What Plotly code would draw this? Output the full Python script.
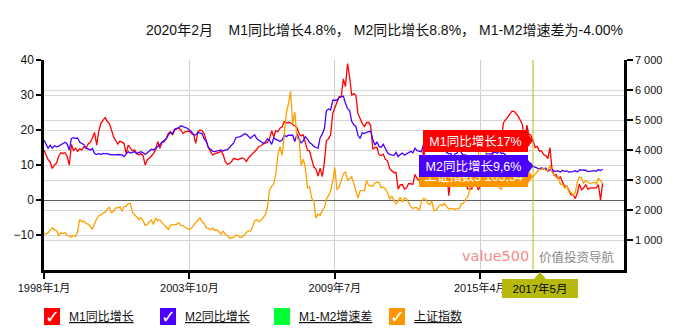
import pandas as pd
import plotly.graph_objects as go

# ---------------- data ----------------
m1_yoy = [
    14.3, 12.5, 11.5, 10.8, 9.0, 10.0, 10.5, 12.5, 13.5, 13.3, 13.5, 12.5,   # 1998
    10.0, 15.9, 14.2, 14.8, 13.9, 14.6, 14.3, 15.2, 14.8, 16.0, 16.5, 17.7,  # 1999
    19.3, 15.7, 19.5, 21.9, 22.8, 23.6, 22.5, 21.9, 20.0, 18.1, 17.0, 16.0,  # 2000
    16.8, 16.6, 16.2, 13.3, 15.7, 14.8, 14.0, 14.3, 13.2, 12.9, 13.3, 12.7,  # 2001
    10.0, 11.5, 11.9, 12.5, 13.3, 14.3, 16.7, 14.8, 16.5, 16.6, 17.6, 19.0,  # 2002
    19.5, 18.6, 20.0, 20.2, 20.5, 20.0, 19.0, 19.5, 19.5, 19.7, 19.0, 18.7,  # 2003
    16.2, 19.5, 20.0, 19.8, 19.0, 16.7, 15.0, 13.8, 12.9, 13.2, 13.3, 13.6,  # 2004
    14.0, 12.9, 11.0, 10.2, 10.4, 11.0, 11.9, 11.6, 11.5, 11.8, 12.0, 11.8,  # 2005
    11.0, 12.0, 12.6, 13.0, 13.8, 14.5, 15.3, 15.5, 16.0, 16.3, 16.5, 17.5,  # 2006
    19.8, 18.0, 19.8, 19.5, 20.5, 20.9, 22.4, 22.0, 22.2, 22.0, 21.5, 21.0,  # 2007
    20.7, 18.9, 18.3, 18.6, 16.5, 14.2, 14.0, 11.8, 9.4, 8.9, 6.8, 9.1,      # 2008
    6.7, 10.9, 17.0, 17.5, 18.7, 24.8, 26.4, 27.7, 29.5, 29.5, 34.6, 32.4,   # 2009
    39.0, 35.0, 29.9, 30.4, 29.9, 24.6, 23.0, 21.9, 20.9, 22.1, 22.2, 21.2,  # 2010
    14.5, 15.0, 15.0, 12.9, 12.7, 13.1, 11.6, 11.2, 8.9, 8.4, 7.8, 7.9,      # 2011
    3.1, 4.3, 4.4, 3.1, 3.5, 4.7, 4.6, 4.5, 7.3, 6.1, 5.5, 6.5,              # 2012
    15.3, 9.5, 11.9, 11.9, 11.3, 9.1, 9.7, 9.9, 8.9, 8.9, 9.4, 9.3,          # 2013
    1.2, 6.9, 5.4, 5.3, 5.7, 8.9, 6.7, 5.7, 4.8, 3.2, 3.2, 3.2,              # 2014
    10.6, 5.6, 2.9, 3.7, 4.7, 4.3, 6.6, 9.3, 11.4, 14.0, 15.7, 15.2,         # 2015
    18.6, 17.4, 22.1, 22.9, 23.7, 24.6, 25.4, 25.3, 24.7, 23.9, 22.7, 21.4,  # 2016
    14.5, 21.4, 18.8, 18.5, 17.0, 15.0, 15.3, 14.0, 14.0, 13.0, 12.7, 11.8,  # 2017
    15.0, 8.5, 7.1, 7.2, 6.0, 6.6, 5.1, 3.9, 4.0, 2.7, 1.5, 1.5,             # 2018
    0.4, 2.0, 4.6, 2.9, 3.4, 4.4, 3.1, 3.4, 3.4, 3.3, 3.5, 4.4,              # 2019
    0.0, 4.8,                                                                # 2020
]

m2_yoy = [
    17.1, 16.0, 14.8, 15.7, 14.8, 15.5, 15.2, 15.4, 15.8, 16.2, 16.5, 16.0,  # 1998
    14.3, 17.6, 17.8, 17.6, 17.7, 16.5, 16.2, 15.8, 14.8, 14.5, 14.3, 14.7,  # 1999
    13.3, 13.0, 13.3, 13.0, 13.3, 13.2, 13.3, 13.0, 12.9, 13.0, 12.9, 13.0,  # 2000
    13.0, 12.9, 12.4, 13.2, 13.8, 13.4, 13.6, 13.8, 13.3, 13.5, 13.8, 13.5,  # 2001
    13.0, 13.5, 14.0, 14.5, 14.3, 14.8, 15.2, 15.8, 16.5, 16.9, 17.5, 18.6,  # 2002
    19.3, 19.0, 20.2, 20.5, 20.7, 21.2, 21.0, 20.8, 20.5, 20.0, 19.5, 18.6,  # 2003
    18.6, 19.3, 19.2, 19.0, 17.5, 16.7, 15.0, 14.3, 13.9, 13.8, 14.0, 14.3,  # 2004
    14.3, 14.0, 14.3, 14.3, 15.0, 15.7, 16.3, 17.8, 17.9, 18.1, 18.4, 18.9,  # 2005
    18.8, 18.0, 17.6, 18.2, 18.6, 17.5, 17.0, 16.7, 16.2, 16.5, 17.5, 17.0,  # 2006
    15.9, 17.8, 17.3, 17.1, 16.7, 17.1, 18.5, 18.1, 18.5, 18.5, 18.5, 16.7,  # 2007
    18.9, 17.5, 16.3, 16.9, 18.1, 17.4, 16.4, 16.0, 15.3, 15.0, 14.8, 17.8,  # 2008
    18.8, 20.5, 25.5, 26.0, 25.7, 28.5, 28.4, 28.5, 29.3, 29.4, 29.7, 27.7,  # 2009
    26.1, 25.5, 22.5, 21.5, 21.0, 18.5, 17.6, 19.2, 19.0, 19.3, 19.5, 19.7,  # 2010
    17.2, 15.7, 16.6, 15.3, 15.1, 15.9, 14.7, 13.5, 13.0, 12.9, 12.7, 13.6,  # 2011
    12.4, 13.0, 13.4, 12.8, 13.2, 13.6, 13.9, 13.5, 14.8, 14.1, 13.9, 13.8,  # 2012
    15.9, 15.2, 15.7, 16.1, 15.8, 14.0, 14.5, 14.7, 14.2, 14.3, 14.2, 13.6,  # 2013
    13.2, 13.3, 12.1, 13.2, 13.4, 14.7, 13.5, 12.8, 12.9, 12.6, 12.3, 12.2,  # 2014
    10.8, 12.5, 11.6, 10.1, 10.8, 10.2, 13.3, 13.3, 13.1, 13.5, 13.7, 13.3,  # 2015
    14.0, 13.3, 13.4, 12.8, 11.8, 11.8, 10.2, 11.4, 11.5, 11.6, 11.4, 11.3,  # 2016
    11.3, 11.1, 10.6, 10.5, 9.6, 9.4, 9.2, 8.9, 9.2, 8.8, 9.1, 8.2,          # 2017
    8.6, 8.8, 8.2, 8.3, 8.3, 8.0, 8.5, 8.2, 8.3, 8.0, 8.0, 8.1,              # 2018
    8.4, 8.0, 8.6, 8.5, 8.5, 8.5, 8.1, 8.2, 8.4, 8.4, 8.2, 8.7,              # 2019
    8.4, 8.8,                                                                # 2020
]

sse_index = [
    1206, 1206, 1243, 1343, 1411, 1339, 1316, 1150, 1242, 1217, 1248, 1147,  # 1998
    1135, 1091, 1158, 1120, 1280, 1690, 1601, 1627, 1546, 1529, 1441, 1367,  # 1999
    1535, 1714, 1801, 1836, 1894, 1928, 2023, 2097, 1911, 1961, 2071, 2073,  # 2000
    2103, 1960, 2113, 2119, 2214, 2218, 1920, 1834, 1741, 1690, 1747, 1646,  # 2001
    1491, 1524, 1603, 1667, 1517, 1732, 1653, 1669, 1581, 1507, 1442, 1357,  # 2002
    1500, 1512, 1511, 1521, 1576, 1487, 1477, 1421, 1367, 1348, 1397, 1497,  # 2003
    1590, 1675, 1742, 1595, 1555, 1400, 1386, 1342, 1396, 1320, 1340, 1266,  # 2004
    1191, 1306, 1181, 1159, 1060, 1080, 1083, 1162, 1155, 1092, 1099, 1161,  # 2005
    1258, 1299, 1299, 1440, 1642, 1672, 1612, 1658, 1752, 1837, 2099, 2675,  # 2006
    2786, 2881, 3184, 3841, 4109, 3821, 4471, 5218, 5552, 5955, 4871, 5262,  # 2007
    4383, 4348, 3473, 3693, 3433, 2736, 2775, 2397, 2293, 1729, 1871, 1821,  # 2008
    1991, 2082, 2373, 2477, 2633, 2959, 3412, 2667, 2779, 2996, 3195, 3277,  # 2009
    2989, 3051, 3110, 2871, 2592, 2398, 2638, 2639, 2656, 2979, 2820, 2808,  # 2010
    2791, 2905, 2928, 2911, 2743, 2762, 2701, 2567, 2359, 2469, 2333, 2199,  # 2011
    2292, 2428, 2263, 2397, 2373, 2225, 2103, 2047, 2086, 2069, 1980, 2269,  # 2012
    2385, 2366, 2237, 2178, 2301, 1979, 1994, 2098, 2175, 2141, 2220, 2116,  # 2013
    2033, 2056, 2033, 2026, 2039, 2048, 2202, 2217, 2364, 2420, 2683, 3235,  # 2014
    3210, 3310, 3748, 4442, 4612, 4277, 3664, 3206, 3053, 3383, 3445, 3539,  # 2015
    2738, 2688, 3004, 2938, 2917, 2930, 2979, 3085, 3005, 3100, 3250, 3104,  # 2016
    3159, 3242, 3223, 3155, 3105.54, 3192, 3273, 3361, 3349, 3393, 3317, 3307,  # 2017
    3481, 3259, 3169, 3082, 3095, 2847, 2876, 2725, 2821, 2603, 2588, 2494,  # 2018
    2585, 2941, 3091, 3078, 2899, 2979, 2933, 2886, 2905, 2929, 2872, 3050,  # 2019
    2977, 2880,                                                              # 2020
]

start_month = "1998-01-01"
x_tick_dates = ["1998-01-01", "2003-10-01", "2009-07-01", "2015-04-01"]
x_tick_text = ["1998年1月", "2003年10月", "2009年7月", "2015年4月"]
left_ticks = [-10, 0, 10, 20, 30, 40]
right_ticks = [1000, 2000, 3000, 4000, 5000, 6000, 7000]
right_tick_text = ["1 000", "2 000", "3 000", "4 000", "5 000", "6 000", "7 000"]
series_names = ["M1同比增长", "M2同比增长", "M1-M2增速差", "上证指数"]
series_checked = [True, True, False, True]
focus_month = "2017-05-01"
focus_label = "2017年5月"
title_text = ("2020年2月\u00a0\u00a0\u00a0\u00a0M1同比增长4.8%，\u00a0M2同比增长8.8%，"
              "\u00a0M1-M2增速差为-4.00%")

# ---------------- styling ----------------
W, H = 675, 335
L, R, T, B = 44, 51, 60, 65
PW, PH = W - L - R, H - T - B
FONT = "Liberation Sans, Arial, Noto Sans CJK SC, sans-serif"
C_M1, C_M2, C_DIFF, C_SSE = "#ff0000", "#4a00ff", "#00ff33", "#ffa000"
C_BOX_SSE = "#ff9600"
OLIVE = "#b7ba0c"
legend_colors = [C_M1, C_M2, C_DIFF, C_BOX_SSE]


def xp(px):
    return (px - L) / PW


def yp(py):
    return (T + PH - py) / PH


dates = pd.date_range(start_month, periods=len(m1_yoy), freq="MS")
fi = dates.get_loc(pd.Timestamp(focus_month))

fig = go.Figure()
fig.add_trace(go.Scatter(x=dates, y=m1_yoy, mode="lines", name=series_names[0],
                         line=dict(color=C_M1, width=1.3), yaxis="y"))
fig.add_trace(go.Scatter(x=dates, y=m2_yoy, mode="lines", name=series_names[1],
                         line=dict(color=C_M2, width=1.3), yaxis="y"))
fig.add_trace(go.Scatter(x=dates, y=sse_index, mode="lines", name=series_names[3],
                         line=dict(color=C_SSE, width=1.3), yaxis="y2"))

shapes = []
annotations = []

# crosshair
shapes.append(dict(type="line", xref="x", yref="paper", x0=dates[fi], x1=dates[fi],
                   y0=0, y1=1, line=dict(color=OLIVE, width=1), layer="above"))


def fmt_num(v):
    return f"{v:,.2f}".replace(",", " ").replace(".", ",")


# tooltips (drawn orange, blue, red so red/blue lie on top, as in the reference)
tips = [
    (sse_index[fi], "y2", C_BOX_SSE, f"上证指数{fmt_num(sse_index[fi])}", 109, 21),
    (m2_yoy[fi], "y", C_M2, f"M2同比增长{m2_yoy[fi]:g}%".replace(".", ","), 109, 22),
    (m1_yoy[fi], "y", C_M1, f"M1同比增长{m1_yoy[fi]:g}%", 105, 22),
]
for val, yr, col, txt, wbox, hbox in tips:
    annotations.append(dict(x=dates[fi], y=val, xref="x", yref=yr, text=txt,
                            showarrow=False, xanchor="right", yanchor="middle",
                            xshift=-5, width=wbox, height=hbox, bgcolor=col,
                            borderpad=0, borderwidth=0, align="center",
                            font=dict(family=FONT, size=12.5, color="white")))
    shapes.append(dict(type="path", xref="x", yref=yr, xsizemode="pixel",
                       ysizemode="pixel", xanchor=dates[fi], yanchor=val,
                       path="M -6,8 L 0,0 L -6,-8 Z", fillcolor=col,
                       line=dict(width=0), layer="above"))

# date label below the axis
annotations.append(dict(x=dates[fi], y=0, xref="x", yref="paper", text=focus_label,
                        showarrow=False, xanchor="center", yanchor="top",
                        xshift=7, yshift=-9, width=76, height=19, bgcolor=OLIVE,
                        borderpad=0, borderwidth=0,
                        font=dict(family=FONT, size=11.5, color="black")))
shapes.append(dict(type="path", xref="x", yref="paper", xsizemode="pixel",
                   ysizemode="pixel", xanchor=dates[fi], yanchor=0,
                   path="M 1,-9 L 7,-2 L 13,-9 Z", fillcolor=OLIVE,
                   line=dict(width=0), layer="above"))

# title
annotations.append(dict(x=xp(625), y=yp(30), xref="paper", yref="paper", text=title_text,
                        showarrow=False, xanchor="right", yanchor="middle",
                        font=dict(family=FONT, size=14, color="#111")))

# watermark
annotations.append(dict(x=xp(531), y=yp(256), xref="paper", yref="paper", text="value500",
                        showarrow=False, xanchor="right", yanchor="middle",
                        font=dict(family="DejaVu Sans", size=14.5, color="#f28a8a")))
annotations.append(dict(x=xp(537), y=yp(256), xref="paper", yref="paper", text="价值投资导航",
                        showarrow=False, xanchor="left", yanchor="middle",
                        font=dict(family="Noto Sans CJK SC", size=12.5, color="#8a8a8a")))

# custom legend (checkbox style as in the reference)
legend_x = [44, 160, 274, 389]
for lx, name, col, chk in zip(legend_x, series_names, legend_colors, series_checked):
    shapes.append(dict(type="rect", xref="paper", yref="paper",
                       x0=xp(lx), x1=xp(lx + 16), y0=yp(325), y1=yp(308),
                       fillcolor=col, line=dict(width=0)))
    if chk:
        annotations.append(dict(x=xp(lx + 8.5), y=yp(316), xref="paper", yref="paper",
                                text="✓", showarrow=False, xanchor="center",
                                yanchor="middle",
                                font=dict(family="DejaVu Sans", size=18, color="white")))
    annotations.append(dict(x=xp(lx + 23), y=yp(316.5), xref="paper", yref="paper",
                            text=f"<u>{name}</u>", showarrow=False, xanchor="left",
                            yanchor="middle",
                            font=dict(family=FONT, size=12, color="#111")))

fig.update_layout(
    width=W, height=H,
    margin=dict(l=L, r=R, t=T, b=B, pad=0),
    paper_bgcolor="white", plot_bgcolor="white",
    showlegend=False, hovermode=False,
    font=dict(family=FONT, size=11, color="#111"),
    xaxis=dict(type="date", range=["1998-01-01", "2020-12-05"],
               tickvals=x_tick_dates, ticktext=x_tick_text,
               showgrid=True, gridcolor="#cfcfcf", gridwidth=1,
               showline=True, linecolor="black", linewidth=2.5,
               ticks="outside", ticklen=6, tickcolor="black", tickwidth=1.5,
               tickfont=dict(size=11, color="#111"), zeroline=False),
    yaxis=dict(range=[-20, 40], tickvals=left_ticks,
               showgrid=True, gridcolor="#d6d6d6", gridwidth=1,
               zeroline=True, zerolinecolor="#606060", zerolinewidth=1.2,
               showline=True, linecolor="black", linewidth=2.5,
               ticks="outside", ticklen=5, tickcolor="black", tickwidth=1.5,
               tickfont=dict(size=12, color="#111")),
    yaxis2=dict(range=[0, 7000], tickvals=right_ticks, ticktext=right_tick_text,
                overlaying="y", side="right",
                showgrid=True, gridcolor="#d6d6d6", gridwidth=1, zeroline=False,
                showline=True, linecolor="black", linewidth=2.5,
                ticks="outside", ticklen=6, tickcolor="black", tickwidth=1.5,
                tickfont=dict(size=11, color="#111")),
    shapes=shapes,
    annotations=annotations,
)

fig.write_html("out.html")
